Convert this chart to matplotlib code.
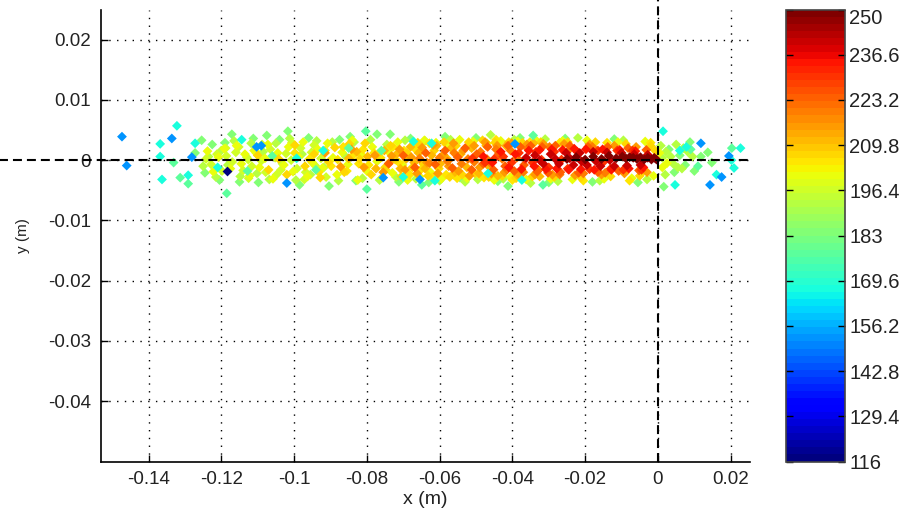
import numpy as np
import matplotlib
matplotlib.use('Agg')
import matplotlib.pyplot as plt

plt.rcParams['font.family'] = ['Liberation Sans', 'DejaVu Sans']
plt.rcParams['axes.unicode_minus'] = False

# colour value -> (x, y) points in metres
pts_184 = [(-0.1272,0.0012),(-0.1254,0.0033),(-0.1245,-0.0021),(-0.1225,0.0026),(-0.1205,-0.0033),(-0.1190,0.0029),
           (-0.1171,0.0043),(-0.1150,-0.0036),(-0.1112,0.0036),(-0.1098,-0.0037),(-0.1075,0.0041),(-0.1040,0.0034),
           (-0.1017,0.0048),(-0.0985,-0.0041),(-0.0960,0.0037),(-0.0904,-0.0043),(-0.0875,0.0034),(-0.0846,0.0039),
           (-0.0830,-0.0034),(-0.0772,0.0043),(-0.0736,0.0043),(-0.0712,-0.0036),(-0.0680,0.0036),(-0.0630,-0.0037),
           (-0.0585,0.0039),(-0.0544,-0.0029),(-0.0500,0.0037),(-0.0440,-0.0035),(-0.0412,-0.0043),(-0.0379,0.0037),
           (-0.0300,-0.0037),(-0.0255,0.0036),(-0.0180,-0.0036),(-0.0120,0.0035),(-0.0055,-0.0037),
           (0.0016,-0.0044),(0.0030,0.0018),(0.0045,-0.0020),(0.0060,0.0008),(0.0075,-0.0008),(0.0088,0.0030),
           (0.0100,-0.0018),(0.0118,0.0006),(0.0137,0.0013),(0.0148,-0.0004)]
pts_192 = [(-0.1250,-0.0010),(-0.1235,0.0006),(-0.1215,-0.0028),(-0.1200,0.0016),(-0.1182,-0.0008),(-0.1165,0.0032),
           (-0.1148,-0.0027),(-0.1130,0.0005),(-0.1118,0.0028),(-0.1102,-0.0022),(-0.1085,0.0014),(-0.1068,-0.0032),
           (-0.1050,0.0028),(-0.1032,-0.0006),(-0.1012,0.0036),(-0.0995,-0.0033),(-0.0978,0.0010),(-0.0955,-0.0024),
           (-0.0938,0.0032),(-0.0918,-0.0012),(-0.0895,0.0030),(-0.0878,-0.0034),(-0.0858,0.0006),(-0.0835,0.0030),
           (-0.0812,-0.0030),(-0.0790,0.0034),(-0.0765,-0.0033),(-0.0745,0.0026),(-0.0720,-0.0028),(-0.0695,0.0033),
           (-0.0665,-0.0031),(-0.0640,0.0032),(-0.0600,-0.0034),(-0.0570,0.0034),(-0.0530,-0.0036),(-0.0495,-0.0032),
           (-0.0460,0.0042),(-0.0425,-0.0031),(-0.0395,0.0034),(-0.0350,-0.0038),(-0.0310,0.0035),(-0.0275,-0.0035),
           (-0.0220,0.0037),(-0.0160,-0.0034),(-0.0095,0.0033),(-0.0030,-0.0032),(0.0008,0.0024),(0.0020,-0.0024),
           (0.0035,0.0006),(0.0050,0.0026),(0.0066,-0.0014),(0.0082,0.0014),(0.0012,0.0004),(0.0042,-0.0006),
           (0.0055,-0.0012),(0.0070,0.0020),(0.0095,0.0006),(0.0022,0.0014)]
pts_mid_196 = [(-0.1242,0.0002),(-0.1228,-0.0007),(-0.1212,0.0010),(-0.1198,-0.0018),(-0.1186,0.0007),(-0.1170,-0.0003),
               (-0.1160,0.0013),(-0.1140,-0.0017),(-0.1126,0.0001),(-0.1116,-0.0010),(-0.1104,0.0012),(-0.1090,-0.0001),
               (-0.1078,-0.0020),(-0.1065,0.0018),(-0.1052,0.0004),(-0.1036,-0.0016),(-0.1022,0.0011),(-0.1008,0.0000),
               (-0.0992,-0.0014),(-0.0982,0.0020),(-0.0968,-0.0020),(-0.0952,0.0013),(-0.0942,-0.0009),(-0.0926,0.0003),
               (-0.1188,0.0020),(-0.1152,0.0022),(-0.1125,-0.0030),(-0.1088,0.0026),(-0.1048,-0.0024),(-0.1006,0.0029),
               (-0.0972,-0.0032),(-0.0945,0.0025),(-0.0912,-0.0028)]
pts_200 = [(-0.1238,0.0015),(-0.1222,-0.0019),(-0.1208,0.0005),(-0.1192,0.0019),(-0.1175,-0.0014),(-0.1158,0.0024),
           (-0.1145,-0.0006),(-0.1135,0.0010),(-0.1122,-0.0026),(-0.1110,0.0016),(-0.1095,-0.0012),(-0.1080,0.0003),
           (-0.1072,0.0026),(-0.1058,-0.0031),(-0.1045,0.0012),(-0.1028,-0.0008),(-0.1015,0.0022),(-0.1003,-0.0019),
           (-0.0988,0.0006),(-0.0975,0.0030),(-0.0963,-0.0027),(-0.0950,-0.0004),(-0.0935,0.0018),(-0.0922,-0.0013),
           (-0.0908,0.0028),(-0.0893,0.0004),(-0.0882,-0.0024),(-0.0868,0.0013),(-0.0852,-0.0007),(-0.0840,0.0033),
           (-0.0825,-0.0033),(-0.0815,0.0009),(-0.0800,-0.0018),(-0.0785,0.0022),(-0.0772,-0.0002),(-0.0758,-0.0029),
           (-0.0742,0.0015),(-0.0730,-0.0021),(-0.0715,0.0030),(-0.0702,-0.0008),(-0.0688,-0.0033),(-0.0672,0.0024),
           (-0.0655,-0.0027),(-0.0642,0.0033),(-0.0625,-0.0020),(-0.0610,0.0029),(-0.0595,-0.0031),(-0.0578,0.0026),
           (-0.0560,-0.0025),(-0.0545,0.0034),(-0.0525,-0.0030),(-0.0508,0.0031),(-0.0488,-0.0026),(-0.0470,0.0028),
           (-0.0450,-0.0033),(-0.0432,0.0032),(-0.0405,-0.0028),(-0.0385,0.0031),(-0.0362,-0.0032),(-0.0335,0.0033),
           (-0.0295,-0.0031),(-0.0262,0.0032),(-0.0235,-0.0032),(-0.0195,0.0033),(-0.0148,-0.0031),(-0.0110,0.0030),
           (-0.0072,-0.0030),(-0.0035,0.0031),(-0.0012,-0.0026),(0.0004,0.0012),(0.0012,-0.0012),(0.0025,-0.0005)]
pts_mid_204 = [(-0.0998,0.0012),(-0.0958,0.0002),(-0.0932,-0.0020),(-0.0915,0.0016),(-0.0898,-0.0010),(-0.0880,0.0001),
               (-0.0865,0.0022),(-0.0855,-0.0018),(-0.0838,0.0008),(-0.0822,-0.0006),(-0.0810,0.0018),(-0.0795,-0.0008),
               (-0.0780,0.0012),(-0.0762,0.0004),(-0.0748,-0.0016),(-0.0728,0.0022),(-0.0712,-0.0004),(-0.0698,0.0016),
               (-0.0682,-0.0024),(-0.0668,0.0019),(-0.0652,-0.0016),(-0.0628,0.0028),(-0.0620,-0.0028),(-0.0582,-0.0024),
               (-0.0552,-0.0030),(-0.0515,0.0026),(-0.0478,-0.0029),(-0.0445,0.0034),(-0.0400,-0.0033),(-0.0352,0.0030),
               (-0.0270,0.0029),(-0.0205,-0.0034),(-0.0140,0.0029),(-0.0078,-0.0034),(-0.0020,0.0029)]
pts_208 = [(-0.1100,0.0008),(-0.1070,-0.0016),(-0.1042,0.0002),(-0.1020,-0.0024),(-0.0998,0.0025),(-0.0970,-0.0010),
           (-0.0945,0.0010),(-0.0928,-0.0029),(-0.0905,-0.0003),(-0.0888,0.0021),(-0.0862,-0.0020),(-0.0848,0.0027),
           (-0.0820,0.0002),(-0.0805,0.0028),(-0.0788,-0.0024),(-0.0768,0.0011),(-0.0750,-0.0012),(-0.0735,0.0024),
           (-0.0722,0.0001),(-0.0705,-0.0027),(-0.0690,0.0012),(-0.0675,-0.0012),(-0.0660,0.0029),(-0.0645,-0.0006),
           (-0.0632,-0.0026),(-0.0615,0.0016),(-0.0602,-0.0014),(-0.0588,0.0030),(-0.0572,-0.0028),(-0.0555,0.0024),
           (-0.0538,-0.0024),(-0.0520,0.0030),(-0.0503,-0.0022),(-0.0482,0.0033),(-0.0465,-0.0028),(-0.0448,0.0029),
           (-0.0428,-0.0026),(-0.0410,0.0030),(-0.0390,-0.0030),(-0.0372,0.0029),(-0.0345,-0.0027),(-0.0322,0.0030),
           (-0.0285,-0.0028),(-0.0248,0.0030),(-0.0212,-0.0029),(-0.0172,0.0030),(-0.0130,-0.0027),(-0.0088,0.0027),
           (-0.0050,-0.0026),(-0.0020,0.0024),(-0.0040,-0.0018),(-0.0008,0.0016)]
pts_mid_212 = [(-0.0850,0.0003),(-0.0828,0.0014),(-0.0798,0.0006),(-0.0775,-0.0014),(-0.0752,0.0016),(-0.0738,-0.0004),
               (-0.0718,0.0010),(-0.0708,-0.0014),(-0.0692,0.0002),(-0.0680,0.0022),(-0.0670,-0.0004),(-0.0658,0.0012),
               (-0.0640,-0.0014),(-0.0622,0.0008),(-0.0608,0.0024),(-0.0598,-0.0006),(-0.0580,0.0003),(-0.0568,0.0020),
               (-0.0558,-0.0020),(-0.0542,0.0010),(-0.0525,-0.0012),(-0.0512,0.0020),(-0.0492,-0.0022),(-0.0472,0.0024),
               (-0.0462,-0.0012),(-0.0440,-0.0026),(-0.0418,0.0024),(-0.0385,-0.0026),(-0.0342,0.0028),(-0.0325,-0.0027)]
pts_216 = [(-0.0915,0.0012),(-0.0872,-0.0011),(-0.0842,0.0018),(-0.0808,-0.0012),(-0.0778,0.0008),(-0.0755,-0.0020),
           (-0.0732,0.0007),(-0.0710,0.0018),(-0.0695,-0.0016),(-0.0678,0.0005),(-0.0662,-0.0022),(-0.0648,0.0021),
           (-0.0635,-0.0004),(-0.0618,0.0025),(-0.0605,-0.0022),(-0.0590,0.0009),(-0.0575,-0.0010),(-0.0562,0.0028),
           (-0.0548,-0.0018),(-0.0535,0.0016),(-0.0518,-0.0026),(-0.0505,0.0024),(-0.0490,-0.0012),(-0.0475,0.0030),
           (-0.0458,-0.0022),(-0.0442,0.0024),(-0.0422,-0.0020),(-0.0402,0.0028),(-0.0382,-0.0024),(-0.0360,0.0026),
           (-0.0338,-0.0024),(-0.0315,0.0027),(-0.0290,-0.0024),(-0.0258,0.0027),(-0.0228,-0.0025),(-0.0188,0.0026),
           (-0.0155,-0.0024),(-0.0120,0.0024),(-0.0092,-0.0022),(-0.0060,0.0022),(-0.0030,-0.0020)]
pts_mid_220 = [(-0.0655,0.0003),(-0.0628,-0.0005),(-0.0600,0.0004),(-0.0578,-0.0002),(-0.0560,0.0012),(-0.0540,-0.0006),
               (-0.0522,0.0002),(-0.0505,-0.0003),(-0.0488,0.0014),(-0.0470,0.0002),(-0.0460,-0.0005),(-0.0445,0.0018),
               (-0.0428,0.0002),(-0.0415,-0.0016),(-0.0405,0.0016),(-0.0388,0.0004),(-0.0370,-0.0020),(-0.0358,0.0019),
               (-0.0328,-0.0016),(-0.0298,0.0022),(-0.0270,-0.0024),(-0.0240,0.0020),(-0.0205,-0.0022),(-0.0180,0.0022),
               (-0.0145,-0.0021)]
pts_224 = [(-0.0740,-0.0006),(-0.0700,0.0008),(-0.0668,-0.0012),(-0.0638,0.0012),(-0.0612,-0.0007),(-0.0585,0.0016),
           (-0.0565,-0.0013),(-0.0550,0.0005),(-0.0530,0.0020),(-0.0512,-0.0016),(-0.0498,0.0010),(-0.0480,-0.0006),
           (-0.0468,0.0022),(-0.0452,-0.0016),(-0.0438,0.0010),(-0.0420,-0.0010),(-0.0412,0.0024),(-0.0395,-0.0018),
           (-0.0378,0.0022),(-0.0368,-0.0008),(-0.0350,0.0024),(-0.0332,-0.0019),(-0.0318,0.0022),(-0.0302,-0.0021),
           (-0.0282,0.0024),(-0.0268,-0.0020),(-0.0242,0.0024),(-0.0218,-0.0021),(-0.0192,0.0022),(-0.0165,-0.0020),
           (-0.0138,0.0022),(-0.0108,-0.0018),(-0.0082,0.0020),(-0.0052,-0.0017),(-0.0032,0.0017)]
pts_mid_230 = [(-0.0510,0.0003),(-0.0475,-0.0004),(-0.0450,0.0002),(-0.0425,0.0006),(-0.0402,-0.0004),(-0.0382,0.0012),
               (-0.0365,0.0002),(-0.0345,-0.0004),(-0.0335,0.0014),(-0.0320,0.0001),(-0.0300,-0.0012),(-0.0285,0.0014),
               (-0.0265,0.0001),(-0.0248,-0.0014),(-0.0222,0.0014),(-0.0205,-0.0002),(-0.0188,-0.0015),(-0.0165,0.0016),
               (-0.0148,-0.0002),(-0.0130,-0.0014),(-0.0112,0.0016),(-0.0095,-0.0016),(-0.0070,0.0016),(-0.0045,-0.0016)]
pts_234 = [(-0.0480,0.0006),(-0.0455,-0.0004),(-0.0432,0.0014),(-0.0410,-0.0012),(-0.0392,0.0010),(-0.0375,-0.0015),
           (-0.0355,0.0016),(-0.0340,-0.0010),(-0.0325,0.0017),(-0.0308,-0.0015),(-0.0292,0.0018),(-0.0278,-0.0014),
           (-0.0262,0.0017),(-0.0245,-0.0016),(-0.0230,0.0019),(-0.0212,-0.0015),(-0.0198,0.0018),(-0.0175,-0.0016),
           (-0.0152,0.0018),(-0.0128,-0.0016),(-0.0105,0.0017),(-0.0080,-0.0014),(-0.0062,0.0015),(-0.0040,-0.0012)]
pts_240 = [(-0.0362,0.0004),(-0.0338,0.0008),(-0.0315,-0.0006),(-0.0295,0.0010),(-0.0272,-0.0006),(-0.0252,0.0012),
           (-0.0232,-0.0008),(-0.0215,0.0012),(-0.0195,-0.0008),(-0.0178,0.0014),(-0.0158,-0.0010),(-0.0140,0.0013),
           (-0.0120,-0.0010),(-0.0100,0.0012),(-0.0085,-0.0009),(-0.0065,0.0010),(-0.0048,-0.0008),(-0.0028,0.0009),
           (-0.0325,0.0000),(-0.0282,0.0002),(-0.0242,0.0003),(-0.0210,-0.0002),(-0.0170,-0.0002),(-0.0132,0.0000)]
pts_248 = [(-0.0250,0.0002),(-0.0225,0.0005),(-0.0200,0.0001),(-0.0178,0.0006),(-0.0155,0.0002),(-0.0135,0.0007),
           (-0.0115,0.0003),(-0.0098,0.0006),(-0.0088,0.0003),(-0.0078,0.0005),(-0.0068,0.0004),(-0.0058,0.0002),
           (-0.0048,0.0005),(-0.0038,0.0001),(-0.0028,0.0004),(-0.0018,0.0001),(-0.0010,0.0004),(-0.0004,0.0001)]
pts_over_178 = [(-0.1331,-0.0004),(-0.1313,-0.0029),(-0.1291,-0.0039),(-0.1185,-0.0055),(-0.1128,-0.0018),(-0.1060,0.0007),
                (-0.0940,-0.0016),(-0.0850,0.0020),(-0.0803,0.0048),(-0.0800,-0.0048),(-0.0760,0.0016),(-0.0649,-0.0041),
                (-0.0343,0.0041),(-0.0316,-0.0041),(0.0203,0.0020),(0.0110,-0.0010),(0.0090,0.0018)]
pts_over_168 = [(-0.1368,0.0027),(-0.1368,0.0006),(-0.1363,-0.0032),(-0.1291,-0.0025),(-0.1272,0.0028),(-0.1210,-0.0012),
                (-0.0993,0.0003),(-0.0920,0.0016),(-0.0613,-0.0034),(-0.0622,0.0028),(-0.0467,-0.0022),(-0.0374,-0.0033),
                (0.0014,0.0048),(0.0047,-0.0041),(0.0060,0.0016),(0.0078,0.0022),(0.0161,-0.0024),(0.0202,0.0000),
                (0.0209,-0.0013),(0.0227,0.0020),(-0.1322,0.0057),(-0.1144,0.0034),(-0.0672,0.0031),(-0.0700,-0.0028)]
pts_over_152 = [(-0.1473,0.0039),(-0.1460,-0.0009),(-0.1336,0.0036),(-0.1281,0.0005),(-0.1103,0.0022),(-0.1090,0.0024),
                (-0.1020,-0.0038),(-0.0755,-0.0029),(-0.0654,-0.0032),(-0.0393,0.0027),(0.0118,0.0028),(0.0195,0.0007),
                (0.0175,-0.0028),(0.0143,-0.0041)]
pts_over_118 = [(-0.1185,-0.0018)]

groups = [(184, pts_184), (192, pts_192), (196, pts_mid_196), (200, pts_200), (204, pts_mid_204), (208, pts_208),
          (212, pts_mid_212), (216, pts_216), (220, pts_mid_220), (224, pts_224), (230, pts_mid_230),
          (234, pts_234), (240, pts_240), (248, pts_248), (178, pts_over_178), (168, pts_over_168),
          (152, pts_over_152), (118, pts_over_118)]

xticks = [-0.14, -0.12, -0.1, -0.08, -0.06, -0.04, -0.02, 0, 0.02]
xticklabels = ['-0.14', '-0.12', '-0.1', '-0.08', '-0.06', '-0.04', '-0.02', '0', '0.02']
yticks = [0.02, 0.01, 0, -0.01, -0.02, -0.03, -0.04]
yticklabels = ['0.02', '0.01', '0', '-0.01', '-0.02', '-0.03', '-0.04']
cticks = [116, 129.4, 142.8, 156.2, 169.6, 183, 196.4, 209.8, 223.2, 236.6, 250]
cticklabels = ['116', '129.4', '142.8', '156.2', '169.6', '183', '196.4', '209.8', '223.2', '236.6', '250']

W, H = 904, 513
fig = plt.figure(figsize=(W / 100, H / 100), dpi=100)
ax = fig.add_axes([100.5 / W, 1 - 461.5 / H, 649.5 / W, 452 / H])
cax = fig.add_axes([786 / W, 1 - 461.5 / H, 59 / W, 452 / H])

cmap = plt.get_cmap('jet', 64)
norm = matplotlib.colors.Normalize(116, 250)

for val, pts in groups:
    x, y = np.array(pts).T
    ax.scatter(x, y, s=25, marker='D', c=np.full(len(x), val), cmap=cmap, norm=norm, linewidths=0, zorder=3)

ax.set_xlim(-0.1532, 0.0253)
ax.set_ylim(-0.05, 0.025)
ax.set_xticks(xticks)
ax.set_xticklabels(xticklabels)
ax.set_yticks(yticks)
ax.set_yticklabels(yticklabels)
ax.tick_params(direction='in', length=5, width=1, labelsize=13.5, pad=7, color='black', labelcolor='#222222')
ax.grid(True, color='black', linewidth=1, linestyle=(0, (1, 4.6)))
ax.set_axisbelow(True)
ax.spines['top'].set_visible(False)
ax.spines['right'].set_visible(False)
ax.spines['left'].set_linewidth(1.2)
ax.spines['bottom'].set_linewidth(1.2)

# thick dashed cross through the origin, runs past the axes on the left and top
ax.plot([-0.181, 0.0253], [0, 0], color='black', lw=1.5, ls=(0, (4.3, 2.4)), clip_on=False, zorder=5)
ax.plot([0, 0], [-0.05, 0.0265], color='black', lw=1.5, ls=(0, (4.3, 2.4)), clip_on=False, zorder=5)

ax.set_xlabel('x (m)', fontsize=14, color='#222222', labelpad=2)
ax.set_ylabel('y (m)', fontsize=11, color='#222222', labelpad=13)

sm = matplotlib.cm.ScalarMappable(norm=norm, cmap=cmap)
cb = fig.colorbar(sm, cax=cax, ticks=cticks)
cb.ax.set_yticklabels(cticklabels)
cb.ax.tick_params(direction='in', left=True, right=True, length=5, width=1, labelsize=14.5, pad=3, labelcolor='#222222')
cb.outline.set_edgecolor('#444444')
cb.outline.set_linewidth(1.2)
cb.ax.get_yticklabels()[-1].set_va('top')

fig.savefig('out.png', dpi=100)
